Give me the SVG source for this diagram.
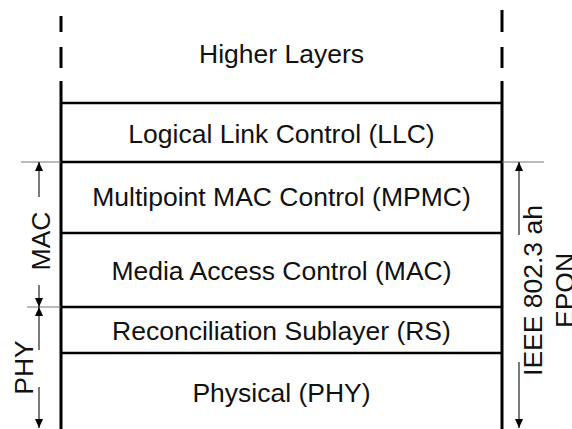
<svg xmlns="http://www.w3.org/2000/svg" width="572" height="429" viewBox="0 0 572 429">
  <style>
    .lbl { font-family: "Liberation Sans", Arial, sans-serif; font-size: 26.5px; fill: #111; text-anchor: middle; }
    .rail { stroke: #000; stroke-width: 3; fill: none; }
    .sep { stroke: #000; stroke-width: 2.5; fill: none; }
    .ext { stroke: #777; stroke-width: 1; fill: none; }
    .dim { stroke: #222; stroke-width: 1.2; fill: none; marker-end: url(#tip); }
  </style>
  <defs>
    <marker id="tip" markerUnits="userSpaceOnUse" markerWidth="9" markerHeight="8" refX="9" refY="4" orient="auto">
      <path d="M0,0 L9,4 L0,8 z" fill="#000"/>
    </marker>
  </defs>
  <rect width="572" height="429" fill="#fff"/>

  <!-- side rails of the stack -->
  <g id="rails">
    <line class="rail" x1="61" y1="16" x2="61" y2="32"/>
    <line class="rail" x1="61" y1="47" x2="61" y2="68"/>
    <line class="rail" x1="61" y1="81" x2="61" y2="429"/>
    <line class="rail" x1="502" y1="10" x2="502" y2="32"/>
    <line class="rail" x1="502" y1="47" x2="502" y2="68"/>
    <line class="rail" x1="502" y1="81" x2="502" y2="429"/>
  </g>

  <!-- layers -->
  <g id="higher-layers">
    <text class="lbl" x="281.5" y="63">Higher Layers</text>
  </g>
  <g id="llc">
    <line class="sep" x1="61" y1="103" x2="502" y2="103"/>
    <text class="lbl" x="281.5" y="143">Logical Link Control (LLC)</text>
  </g>
  <g id="mpmc">
    <line class="sep" x1="61" y1="162" x2="502" y2="162"/>
    <text class="lbl" x="281.5" y="206">Multipoint MAC Control (MPMC)</text>
  </g>
  <g id="mac">
    <line class="sep" x1="61" y1="233" x2="502" y2="233"/>
    <text class="lbl" x="281.5" y="279.5">Media Access Control (MAC)</text>
  </g>
  <g id="rs">
    <line class="sep" x1="61" y1="307" x2="502" y2="307"/>
    <text class="lbl" x="281.5" y="340">Reconciliation Sublayer (RS)</text>
  </g>
  <g id="phy">
    <line class="sep" x1="61" y1="353" x2="502" y2="353"/>
    <text class="lbl" x="281.5" y="402">Physical (PHY)</text>
  </g>

  <!-- dimension markers -->
  <g id="connectors">
    <line class="ext" x1="21" y1="162" x2="61" y2="162"/>
    <line class="ext" x1="27" y1="307" x2="61" y2="307"/>
    <line class="ext" x1="502" y1="162" x2="544" y2="162"/>
    <line class="dim" x1="39" y1="197" x2="39" y2="162"/>
    <line class="dim" x1="39" y1="285" x2="39" y2="307"/>
    <line class="dim" x1="39" y1="350" x2="39" y2="307"/>
    <line class="dim" x1="39" y1="387" x2="39" y2="428"/>
    <line class="dim" x1="519" y1="235" x2="519" y2="162"/>
    <line class="dim" x1="519" y1="362" x2="519" y2="428"/>
  </g>

  <g id="dim-labels">
    <text class="lbl" transform="translate(50,241) rotate(-90)">MAC</text>
    <text class="lbl" transform="translate(33,367.5) rotate(-90)">PHY</text>
    <text class="lbl" transform="translate(542,290.5) rotate(-90)">IEEE 802.3 ah</text>
    <text class="lbl" transform="translate(574,290.5) rotate(-90)">EPON</text>
  </g>
</svg>
